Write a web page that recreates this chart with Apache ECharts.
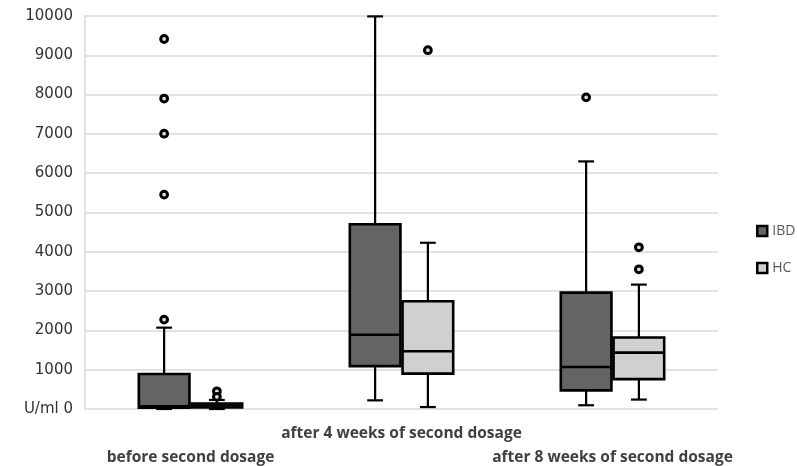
<!DOCTYPE html>
<html>
<head>
<meta charset="utf-8">
<script src="https://cdn.jsdelivr.net/npm/echarts@6/dist/echarts.min.js"></script>
<style>
  html, body { margin: 0; padding: 0; background: #fff; }
  #chart { width: 797px; height: 466px; }
</style>
</head>
<body>
<div id="chart"></div>
<script>
const categories = ['before second dosage', 'after 4 weeks of second dosage', 'after 8 weeks of second dosage']
const yTicks = [0, 1000, 2000, 3000, 4000, 5000, 6000, 7000, 8000, 9000, 10000]

// [category, min, Q1, median, Q3, max]
const ibdBoxes = [
  [0, 0, 30, 70, 890, 2070],
  [1, 220, 1090, 1890, 4700, 9990],
  [2, 95, 475, 1070, 2960, 6300],
]
const hcBoxes = [
  [0, 0, 40, 90, 140, 230],
  [1, 50, 900, 1470, 2740, 4230],
  [2, 240, 760, 1435, 1820, 3165],
]
const ibdOutliers = [
  [0, 9415], [0, 7900], [0, 7005], [0, 5455], [0, 2275],
  [2, 7930],
]
const hcOutliers = [
  [0, 450], [0, 310],
  [1, 9130],
  [2, 4115], [2, 3555],
]

const ibdColor = '#646464'
const hcColor = '#d0d0d0'

function boxRenderer(offsetFrac, fill) {
  return function (params, api) {
    const cat = api.value(0)
    const band = api.size([1, 0])[0]
    const cx = api.coord([cat, 0])[0] + band * offsetFrac
    const y = (d) => api.coord([cat, api.value(d)])[1]
    const yMin = y(1), yQ1 = y(2), yMed = y(3), yQ3 = y(4), yMax = y(5)
    const bw = band * 0.24
    const cw = band * 0.075
    const ln = { stroke: '#000', lineWidth: 2.2 }
    return {
      type: 'group',
      children: [
        { type: 'line', shape: { x1: cx, y1: yMax, x2: cx, y2: yQ3 }, style: ln },
        { type: 'line', shape: { x1: cx, y1: yQ1, x2: cx, y2: yMin }, style: ln },
        { type: 'line', shape: { x1: cx - cw / 2, y1: yMax, x2: cx + cw / 2, y2: yMax }, style: ln },
        { type: 'line', shape: { x1: cx - cw / 2, y1: yMin, x2: cx + cw / 2, y2: yMin }, style: ln },
        {
          type: 'rect',
          shape: { x: cx - bw / 2, y: yQ3, width: bw, height: yQ1 - yQ3 },
          style: { fill: fill, stroke: '#000', lineWidth: 2.6 },
        },
        { type: 'line', shape: { x1: cx - bw / 2, y1: yMed, x2: cx + bw / 2, y2: yMed }, style: { stroke: '#000', lineWidth: 2.6 } },
      ],
    }
  }
}

function outlierRenderer(offsetFrac) {
  return function (params, api) {
    const cat = api.value(0)
    const band = api.size([1, 0])[0]
    const pt = api.coord([cat, api.value(1)])
    return {
      type: 'circle',
      shape: { cx: pt[0] + band * offsetFrac, cy: pt[1], r: 3.4 },
      style: { fill: '#ddd', stroke: '#000', lineWidth: 3 },
    }
  }
}

const chart = echarts.init(document.getElementById('chart'))
chart.setOption({
  animation: false,
  grid: { left: 85, right: 79, top: 16, bottom: 57, outerBoundsMode: 'none' },
  legend: {
    orient: 'vertical',
    left: 751,
    top: 219,
    itemWidth: 10,
    itemHeight: 10,
    itemGap: 23,
    icon: 'rect',
    textStyle: { color: '#595959', fontSize: 14, fontFamily: 'Open Sans' },
    data: [
      { name: 'IBD', itemStyle: { color: ibdColor, borderColor: '#000', borderWidth: 2.5 } },
      { name: 'HC', itemStyle: { color: hcColor, borderColor: '#000', borderWidth: 2.5 } },
    ],
  },
  xAxis: {
    type: 'category',
    data: categories,
    axisTick: { show: false },
    axisLine: { show: false },
    axisLabel: {
      interval: 0,
      margin: 13,
      color: '#404040',
      fontWeight: 'bold',
      fontSize: 15.5,
      fontFamily: 'Open Sans',
      lineHeight: 24,
      formatter: (v, i) => (i === 1 ? v : '\n' + v),
    },
  },
  yAxis: {
    type: 'value',
    min: yTicks[0],
    max: yTicks[yTicks.length - 1],
    interval: 1000,
    axisLine: { show: true, lineStyle: { color: '#d9d9d9', width: 1.5 } },
    axisTick: { show: false },
    splitLine: { lineStyle: { color: '#d9d9d9', width: 1.5 } },
    axisLabel: {
      margin: 12,
      color: '#333',
      fontSize: 15,
      fontFamily: 'DejaVu Sans',
      formatter: (v) => (v === 0 ? 'U/ml 0' : String(v)),
    },
  },
  series: [
    {
      name: 'IBD', type: 'custom', data: ibdBoxes,
      encode: { x: 0, y: [1, 2, 3, 4, 5] },
      itemStyle: { color: ibdColor },
      renderItem: boxRenderer(-0.125, ibdColor),
    },
    {
      name: 'HC', type: 'custom', data: hcBoxes,
      encode: { x: 0, y: [1, 2, 3, 4, 5] },
      itemStyle: { color: hcColor },
      renderItem: boxRenderer(0.125, hcColor),
    },
    {
      name: 'IBD', type: 'custom', data: ibdOutliers,
      encode: { x: 0, y: 1 },
      renderItem: outlierRenderer(-0.125),
    },
    {
      name: 'HC', type: 'custom', data: hcOutliers,
      encode: { x: 0, y: 1 },
      renderItem: outlierRenderer(0.125),
    },
  ],
})
</script>
</body>
</html>
